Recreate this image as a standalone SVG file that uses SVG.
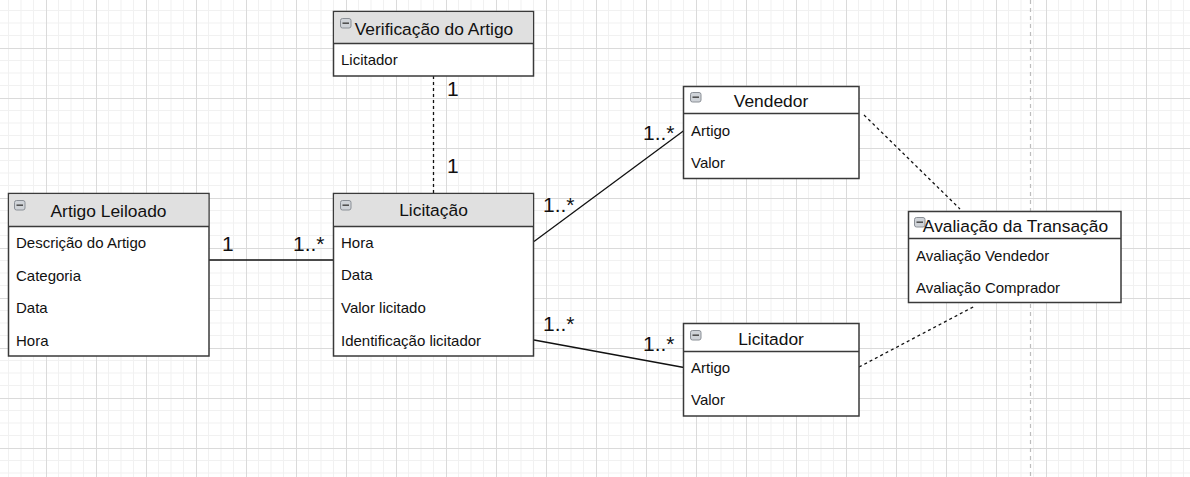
<svg xmlns="http://www.w3.org/2000/svg" width="1190" height="477" viewBox="0 0 1190 477">
<style>
.box{fill:#ffffff;stroke:#3a3a3a;stroke-width:1.5}
.hdr{fill:#e0e0e0}
.sep{stroke:#3a3a3a;stroke-width:1.5}
.title{font-family:"Liberation Sans",Arial,sans-serif;font-size:17.4px;fill:#111;text-anchor:middle}
.row{font-family:"Liberation Sans",Arial,sans-serif;font-size:15px;fill:#111}
.lbl{font-family:"Liberation Sans",Arial,sans-serif;font-size:21px;fill:#111}
.ln{stroke:#111;stroke-width:1.3;fill:none}
.dash{stroke:#111;stroke-width:1.3;fill:none;stroke-dasharray:3,3}
.icon{fill:#cfd3d8;stroke:#8a8f96;stroke-width:1}
.minus{stroke:#4a4a4a;stroke-width:1.5}
</style>
<defs>
<pattern id="grid" x="46" y="48" width="50" height="50" patternUnits="userSpaceOnUse">
<path d="M12.5 0V50M25 0V50M37.5 0V50M0 12.5H50M0 25H50M0 37.5H50" stroke="#f1f1f1" stroke-width="1" fill="none"/>
<path d="M0.5 0V50M0 0.5H50" stroke="#dadada" stroke-width="1" fill="none"/>
</pattern>
<g id="ic"><rect class="icon" x="0.5" y="0.5" width="10.5" height="9.5" rx="2"/><path class="minus" d="M2.5 5.2H9"/></g>
</defs>
<rect x="0" y="0" width="1190" height="477" fill="#ffffff"/>
<rect x="0" y="0" width="1190" height="477" fill="url(#grid)"/>
<path d="M1030.5 0V477" stroke="#bdbdbd" stroke-width="1.2" stroke-dasharray="4,4"/>

<g id="connectors">
<path class="ln" d="M209 260H333"/>
<path class="dash" d="M433.5 76V193"/>
<path class="ln" d="M534 241.5L684 130.5"/>
<path class="ln" d="M534 340L684 367.5"/>
<path class="dash" d="M864 115L960 209"/>
<path class="dash" d="M859 367L975 306"/>
<text class="lbl" x="222" y="251">1</text>
<text class="lbl" x="293" y="251">1..*</text>
<text class="lbl" x="447" y="96">1</text>
<text class="lbl" x="447" y="173">1</text>
<text class="lbl" x="543" y="212">1..*</text>
<text class="lbl" x="643" y="139.5">1..*</text>
<text class="lbl" x="543" y="331">1..*</text>
<text class="lbl" x="643" y="351">1..*</text>
</g>

<g id="artigo-leiloado">
<rect class="box" x="8.5" y="193.5" width="200.5" height="162.5"/>
<rect class="hdr" x="9.25" y="194.25" width="199" height="32"/>
<path class="sep" d="M8.5 226.5H209"/>
<use href="#ic" x="14" y="200"/>
<text class="title" x="108.5" y="217">Artigo Leiloado</text>
<text class="row" x="16" y="248">Descrição do Artigo</text>
<text class="row" x="16" y="281">Categoria</text>
<text class="row" x="16" y="313">Data</text>
<text class="row" x="16" y="346">Hora</text>
</g>

<g id="verificacao-do-artigo">
<rect class="box" x="333.5" y="11.5" width="200" height="64.5"/>
<rect class="hdr" x="334.25" y="12.25" width="198.5" height="31"/>
<path class="sep" d="M333.5 43.5H533.5"/>
<use href="#ic" x="340" y="18"/>
<text class="title" x="434" y="35">Verificação do Artigo</text>
<text class="row" x="341" y="65">Licitador</text>
</g>

<g id="licitacao">
<rect class="box" x="333.5" y="193.5" width="200" height="162.5"/>
<rect class="hdr" x="334.25" y="194.25" width="198.5" height="32.5"/>
<path class="sep" d="M333.5 226.5H533.5"/>
<use href="#ic" x="340" y="200"/>
<text class="title" x="433.5" y="216">Licitação</text>
<text class="row" x="341" y="247.5">Hora</text>
<text class="row" x="341" y="280">Data</text>
<text class="row" x="341" y="312.5">Valor licitado</text>
<text class="row" x="341" y="345.5">Identificação licitador</text>
</g>

<g id="vendedor">
<rect class="box" x="683.5" y="86.5" width="175.5" height="92"/>
<path class="sep" d="M683.5 113.5H859"/>
<use href="#ic" x="690" y="92"/>
<text class="title" x="771" y="107">Vendedor</text>
<text class="row" x="691" y="136">Artigo</text>
<text class="row" x="691" y="167.5">Valor</text>
</g>

<g id="licitador">
<rect class="box" x="683.5" y="323.5" width="175.5" height="92.5"/>
<path class="sep" d="M683.5 351.5H859"/>
<use href="#ic" x="690" y="330"/>
<text class="title" x="771" y="345">Licitador</text>
<text class="row" x="691" y="373">Artigo</text>
<text class="row" x="691" y="405">Valor</text>
</g>

<g id="avaliacao-da-transacao">
<rect class="box" x="908.5" y="211.5" width="212.5" height="91"/>
<path class="sep" d="M908.5 238.5H1121"/>
<use href="#ic" x="914" y="217"/>
<text class="title" x="1015.5" y="232">Avaliação da Transação</text>
<text class="row" x="916" y="261">Avaliação Vendedor</text>
<text class="row" x="916" y="293">Avaliação Comprador</text>
</g>
</svg>
